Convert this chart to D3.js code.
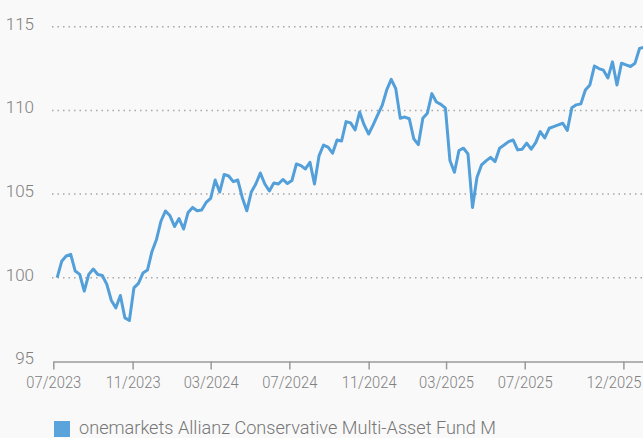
<!DOCTYPE html>
<html>
<head>
<meta charset="utf-8">
<script src="https://cdn.jsdelivr.net/npm/d3@7"></script>
<style>
  html, body { margin: 0; padding: 0; background: #f9f9f9; }
  svg { display: block; }
  .tickText { font-family: Roboto, "Liberation Sans", sans-serif; font-weight: 300; fill: #808080; }
</style>
</head>
<body>
<div id="my_dataviz"></div>
<script>
// weekly fund values (Fridays), first week 07.07.2023
var startDate = "2023-07-07";
var fundValues = [
  100.0, 100.98, 101.3, 101.4, 100.4, 100.2, 99.2, 100.2, 100.52, 100.19,
  100.13, 99.6, 98.64, 98.2, 98.94, 97.6, 97.45, 99.39, 99.66, 100.28,
  100.46, 101.57, 102.29, 103.39, 103.99, 103.7, 103.06, 103.54, 102.91, 103.9,
  104.2, 104.0, 104.05, 104.5, 104.74, 105.84, 105.12, 106.17, 106.08, 105.74,
  105.84, 104.8, 104.0, 105.12, 105.6, 106.26, 105.6, 105.18, 105.66, 105.6,
  105.87, 105.63, 105.81, 106.8, 106.7, 106.5, 106.9, 105.6, 107.28, 107.93,
  107.81, 107.44, 108.23, 108.17, 109.33, 109.25, 108.83, 109.9, 109.13, 108.59,
  109.13, 109.73, 110.3, 111.22, 111.85, 111.3, 109.53, 109.6, 109.5, 108.3,
  107.95, 109.53, 109.83, 111.0, 110.5, 110.36, 110.13, 107.0, 106.3, 107.6,
  107.74, 107.4, 104.2, 106.0, 106.74, 106.98, 107.19, 106.94, 107.74, 107.93,
  108.13, 108.23, 107.64, 107.68, 108.04, 107.68, 108.07, 108.73, 108.35, 108.93,
  109.03, 109.13, 109.23, 108.8, 110.15, 110.33, 110.39, 111.22, 111.52, 112.65,
  112.5, 112.4, 111.94, 112.9, 111.52, 112.82, 112.72, 112.62, 112.82, 113.7,
  113.77
];
var yTicks = [95, 100, 105, 110, 115];
var xTicks = ["2023-07-01", "2023-11-01", "2024-03-01", "2024-07-01",
              "2024-11-01", "2025-03-01", "2025-07-01", "2025-12-01"];
var seriesName = "onemarkets Allianz Conservative Multi-Asset Fund M";

var parseDate = d3.timeParse("%Y-%m-%d");
var data = fundValues.map(function(v, i) {
  return {date: d3.timeDay.offset(parseDate(startDate), 7 * i), value: v};
});

var width = 643, height = 438;
var svg = d3.select("#my_dataviz")
  .append("svg")
    .attr("width", width)
    .attr("height", height);

svg.append("rect")
  .attr("width", width)
  .attr("height", height)
  .attr("fill", "#f9f9f9");

var x = d3.scaleTime()
  .domain([new Date(2023, 6, 1), new Date(2026, 0, 1)])
  .range([53.3, 643.4]);

var y = d3.scaleLinear()
  .domain([95, 115])
  .range([361.4, 26.7]);

// dotted grid lines
svg.append("g")
  .selectAll("line")
  .data(yTicks.filter(function(d) { return d > 95; }))
  .enter()
  .append("line")
    .attr("x1", 52)
    .attr("x2", width)
    .attr("y1", function(d) { return y(d); })
    .attr("y2", function(d) { return y(d); })
    .attr("stroke", "#a8a8a8")
    .attr("stroke-width", 1.5)
    .attr("stroke-dasharray", "1.5,4");

// y labels
svg.append("g")
  .selectAll("text")
  .data(yTicks)
  .enter()
  .append("text")
    .attr("class", "tickText")
    .attr("x", 34)
    .attr("y", function(d) { return y(d) + 2.8; })
    .attr("text-anchor", "end")
    .style("font-size", "17px")
    .text(function(d) { return d; });

// X axis
var labelW = 55;
var lastTick = xTicks.length - 1;
var xAxis = svg.append("g")
  .attr("transform", "translate(0," + y(95) + ")")
  .call(d3.axisBottom(x)
    .tickValues(xTicks.map(parseDate))
    .tickFormat(d3.timeFormat("%m/%Y"))
    .tickSize(8)
    .tickSizeOuter(0));
xAxis.select(".domain").attr("stroke", "#9a9a9a").attr("stroke-width", 1.5);
xAxis.selectAll(".tick line").attr("stroke", "#9a9a9a").attr("stroke-width", 1.5);
// narrow the labels a bit (the original font is condensed)
xAxis.selectAll(".tick text")
  .attr("class", "tickText")
  .attr("y", 15)
  .attr("dy", "0.71em")
  .style("font-size", "17px")
  .each(function(d, i) {
    var s = labelW / this.getComputedTextLength();
    var t = d3.select(this).attr("transform", "scale(" + s + ",1)");
    if (i === lastTick) {
      // last label is pushed left so it stays inside the chart
      t.attr("text-anchor", "end").attr("x", (width - 2 - x(d)) / s);
    }
  });

// the line
svg.append("path")
  .datum(data)
  .attr("fill", "none")
  .attr("stroke", "#539fd9")
  .attr("stroke-width", 3)
  .attr("stroke-linejoin", "round")
  .attr("d", d3.line()
    .x(function(d) { return x(d.date); })
    .y(function(d) { return y(d.value); }));

// legend
svg.append("rect")
  .attr("x", 54)
  .attr("y", 421)
  .attr("width", 16)
  .attr("height", 16)
  .attr("fill", "#5aa3db");

svg.append("text")
  .attr("class", "tickText")
  .attr("x", 79)
  .attr("y", 434)
  .attr("textLength", 417)
  .attr("lengthAdjust", "spacingAndGlyphs")
  .style("font-size", "19px")
  .style("fill", "#777")
  .text(seriesName);
</script>
</body>
</html>
